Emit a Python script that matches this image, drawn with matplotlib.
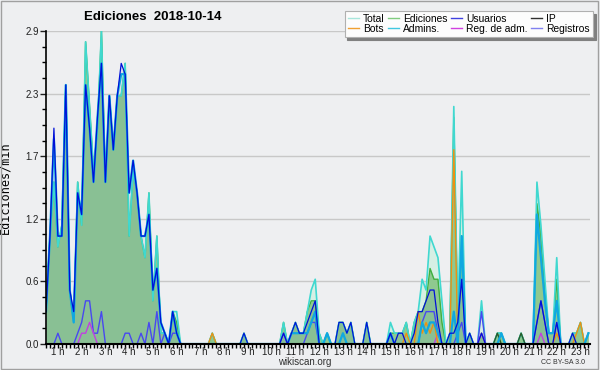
import numpy as np
import matplotlib

matplotlib.use("Agg")
import matplotlib.pyplot as plt
from matplotlib.lines import Line2D
from matplotlib.patches import Rectangle

# values are edits per minute in 10-minute buckets, one row per hour
total = [
    0.3, 1.0, 1.5, 0.9, 1.1, 2.4,
    0.5, 0.2, 1.5, 1.1, 2.8, 2.2,
    1.6, 2.0, 2.9, 1.5, 2.3, 1.8,
    2.3, 2.3, 2.6, 1.0, 1.6, 1.4,
    1.0, 0.8, 1.4, 0.4, 1.0, 0.1,
    0.1, 0.0, 0.3, 0.3, 0.0, 0.0,
    0.0, 0.0, 0.0, 0.0, 0.0, 0.0,
    0.1, 0.0, 0.0, 0.0, 0.0, 0.0,
    0.0, 0.0, 0.1, 0.0, 0.0, 0.0,
    0.0, 0.0, 0.0, 0.0, 0.0, 0.0,
    0.2, 0.0, 0.1, 0.2, 0.1, 0.1,
    0.3, 0.5, 0.6, 0.1, 0.0, 0.1,
    0.0, 0.0, 0.2, 0.2, 0.1, 0.2,
    0.0, 0.0, 0.0, 0.2, 0.0, 0.0,
    0.0, 0.0, 0.0, 0.2, 0.1, 0.1,
    0.1, 0.2, 0.0, 0.2, 0.3, 0.6,
    0.5, 1.0, 0.9, 0.8, 0.4, 0.0,
    0.1, 2.2, 0.2, 1.6, 0.0, 0.1,
    0.0, 0.0, 0.4, 0.0, 0.0, 0.0,
    0.1, 0.1, 0.0, 0.0, 0.0, 0.0,
    0.1, 0.0, 0.0, 0.0, 1.5, 1.1,
    0.6, 0.1, 0.1, 0.8, 0.0, 0.0,
    0.0, 0.1, 0.1, 0.2, 0.0, 0.1,
]
ediciones = [
    0.3, 1.0, 1.5, 0.9, 1.1, 2.4,
    0.5, 0.2, 1.5, 1.1, 2.8, 2.2,
    1.6, 2.0, 2.9, 1.5, 2.3, 1.8,
    2.3, 2.3, 2.6, 1.0, 1.6, 1.4,
    1.0, 0.8, 1.4, 0.4, 1.0, 0.1,
    0.1, 0.0, 0.3, 0.2, 0.0, 0.0,
    0.0, 0.0, 0.0, 0.0, 0.0, 0.0,
    0.1, 0.0, 0.0, 0.0, 0.0, 0.0,
    0.0, 0.0, 0.1, 0.0, 0.0, 0.0,
    0.0, 0.0, 0.0, 0.0, 0.0, 0.0,
    0.2, 0.0, 0.1, 0.2, 0.1, 0.1,
    0.3, 0.4, 0.4, 0.1, 0.0, 0.1,
    0.0, 0.0, 0.2, 0.2, 0.1, 0.2,
    0.0, 0.0, 0.0, 0.2, 0.0, 0.0,
    0.0, 0.0, 0.0, 0.1, 0.1, 0.1,
    0.1, 0.2, 0.0, 0.2, 0.3, 0.3,
    0.4, 0.7, 0.6, 0.6, 0.2, 0.0,
    0.1, 2.1, 0.2, 1.0, 0.0, 0.1,
    0.0, 0.0, 0.1, 0.0, 0.0, 0.0,
    0.1, 0.1, 0.0, 0.0, 0.0, 0.0,
    0.1, 0.0, 0.0, 0.0, 1.3, 1.0,
    0.5, 0.1, 0.1, 0.6, 0.0, 0.0,
    0.0, 0.1, 0.1, 0.2, 0.0, 0.1,
]
usuarios = [
    0.3, 1.0, 2.0, 1.0, 1.0, 2.4,
    0.5, 0.3, 1.4, 1.2, 2.4, 2.0,
    1.5, 2.1, 2.6, 1.5, 2.3, 1.8,
    2.3, 2.6, 2.5, 1.4, 1.7, 1.4,
    1.0, 1.0, 1.2, 0.5, 0.7, 0.2,
    0.1, 0.0, 0.3, 0.1, 0.0, 0.0,
    0.0, 0.0, 0.0, 0.0, 0.0, 0.0,
    0.0, 0.0, 0.0, 0.0, 0.0, 0.0,
    0.0, 0.0, 0.1, 0.0, 0.0, 0.0,
    0.0, 0.0, 0.0, 0.0, 0.0, 0.0,
    0.1, 0.0, 0.1, 0.2, 0.1, 0.1,
    0.2, 0.3, 0.4, 0.0, 0.0, 0.0,
    0.0, 0.0, 0.2, 0.2, 0.1, 0.2,
    0.0, 0.0, 0.0, 0.2, 0.0, 0.0,
    0.0, 0.0, 0.0, 0.1, 0.0, 0.1,
    0.1, 0.0, 0.0, 0.1, 0.3, 0.3,
    0.4, 0.5, 0.5, 0.2, 0.0, 0.0,
    0.1, 0.1, 0.2, 0.6, 0.0, 0.1,
    0.0, 0.0, 0.1, 0.0, 0.0, 0.0,
    0.0, 0.0, 0.0, 0.0, 0.0, 0.0,
    0.0, 0.0, 0.0, 0.0, 0.2, 0.4,
    0.2, 0.0, 0.0, 0.2, 0.0, 0.0,
    0.0, 0.1, 0.0, 0.0, 0.0, 0.0,
]
admins = [
    0.3, 1.0, 1.9, 1.0, 1.0, 2.4,
    0.5, 0.2, 1.4, 1.2, 2.4, 2.0,
    1.5, 2.1, 2.6, 1.5, 2.3, 1.8,
    2.3, 2.5, 2.5, 1.4, 1.7, 1.4,
    1.0, 1.0, 1.2, 0.5, 0.7, 0.2,
    0.1, 0.0, 0.3, 0.1, 0.0, 0.0,
    0.0, 0.0, 0.0, 0.0, 0.0, 0.0,
    0.0, 0.0, 0.0, 0.0, 0.0, 0.0,
    0.0, 0.0, 0.0, 0.0, 0.0, 0.0,
    0.0, 0.0, 0.0, 0.0, 0.0, 0.0,
    0.0, 0.0, 0.1, 0.1, 0.1, 0.1,
    0.1, 0.2, 0.3, 0.0, 0.0, 0.1,
    0.0, 0.0, 0.0, 0.1, 0.0, 0.0,
    0.0, 0.0, 0.0, 0.0, 0.0, 0.0,
    0.0, 0.0, 0.0, 0.1, 0.0, 0.0,
    0.0, 0.0, 0.0, 0.0, 0.0, 0.2,
    0.1, 0.2, 0.2, 0.1, 0.0, 0.0,
    0.0, 0.3, 0.0, 1.0, 0.0, 0.0,
    0.0, 0.0, 0.0, 0.0, 0.0, 0.0,
    0.0, 0.1, 0.0, 0.0, 0.0, 0.0,
    0.0, 0.0, 0.0, 0.0, 1.2, 0.8,
    0.4, 0.1, 0.1, 0.4, 0.0, 0.0,
    0.0, 0.0, 0.0, 0.0, 0.0, 0.1,
]
registros = [
    0.0, 0.0, 0.0, 0.1, 0.0, 0.0,
    0.0, 0.0, 0.1, 0.2, 0.4, 0.4,
    0.1, 0.1, 0.3, 0.0, 0.0, 0.0,
    0.0, 0.0, 0.1, 0.1, 0.0, 0.0,
    0.1, 0.0, 0.2, 0.0, 0.3, 0.0,
    0.1, 0.0, 0.1, 0.1, 0.0, 0.0,
    0.0, 0.0, 0.0, 0.0, 0.0, 0.0,
    0.0, 0.0, 0.0, 0.0, 0.0, 0.0,
    0.0, 0.0, 0.0, 0.0, 0.0, 0.0,
    0.0, 0.0, 0.0, 0.0, 0.0, 0.0,
    0.1, 0.0, 0.0, 0.0, 0.0, 0.0,
    0.1, 0.2, 0.2, 0.0, 0.0, 0.0,
    0.0, 0.0, 0.0, 0.0, 0.0, 0.0,
    0.0, 0.0, 0.0, 0.0, 0.0, 0.0,
    0.0, 0.0, 0.0, 0.1, 0.0, 0.0,
    0.0, 0.0, 0.0, 0.0, 0.0, 0.2,
    0.3, 0.3, 0.3, 0.1, 0.0, 0.0,
    0.0, 0.0, 0.1, 0.2, 0.0, 0.0,
    0.0, 0.0, 0.3, 0.0, 0.0, 0.0,
    0.0, 0.0, 0.0, 0.0, 0.0, 0.0,
    0.0, 0.0, 0.0, 0.0, 0.2, 0.4,
    0.2, 0.0, 0.0, 0.2, 0.0, 0.0,
    0.0, 0.0, 0.0, 0.0, 0.0, 0.0,
]
reg_adm = [
    0.0, 0.0, 0.0, 0.0, 0.0, 0.0,
    0.0, 0.0, 0.0, 0.1, 0.1, 0.2,
    0.1, 0.0, 0.0, 0.0, 0.0, 0.0,
    0.0, 0.0, 0.0, 0.0, 0.0, 0.0,
    0.0, 0.0, 0.0, 0.0, 0.0, 0.0,
    0.0, 0.0, 0.0, 0.0, 0.0, 0.0,
    0.0, 0.0, 0.0, 0.0, 0.0, 0.0,
    0.0, 0.0, 0.0, 0.0, 0.0, 0.0,
    0.0, 0.0, 0.0, 0.0, 0.0, 0.0,
    0.0, 0.0, 0.0, 0.0, 0.0, 0.0,
    0.0, 0.0, 0.0, 0.0, 0.0, 0.0,
    0.0, 0.0, 0.0, 0.0, 0.0, 0.0,
    0.0, 0.0, 0.0, 0.0, 0.0, 0.0,
    0.0, 0.0, 0.0, 0.0, 0.0, 0.0,
    0.0, 0.0, 0.0, 0.0, 0.0, 0.0,
    0.0, 0.0, 0.0, 0.0, 0.0, 0.0,
    0.0, 0.0, 0.0, 0.1, 0.0, 0.0,
    0.0, 0.0, 0.0, 0.0, 0.0, 0.0,
    0.0, 0.0, 0.1, 0.0, 0.0, 0.0,
    0.0, 0.0, 0.0, 0.0, 0.0, 0.0,
    0.0, 0.0, 0.0, 0.0, 0.0, 0.1,
    0.0, 0.0, 0.0, 0.0, 0.0, 0.0,
    0.0, 0.0, 0.0, 0.0, 0.0, 0.0,
]
bots = [
    0.0, 0.0, 0.0, 0.0, 0.0, 0.0,
    0.0, 0.0, 0.0, 0.0, 0.0, 0.0,
    0.0, 0.0, 0.0, 0.0, 0.0, 0.0,
    0.0, 0.0, 0.0, 0.0, 0.0, 0.0,
    0.0, 0.0, 0.0, 0.0, 0.0, 0.0,
    0.0, 0.0, 0.0, 0.0, 0.0, 0.0,
    0.0, 0.0, 0.0, 0.0, 0.0, 0.0,
    0.1, 0.0, 0.0, 0.0, 0.0, 0.0,
    0.0, 0.0, 0.0, 0.0, 0.0, 0.0,
    0.0, 0.0, 0.0, 0.0, 0.0, 0.0,
    0.0, 0.0, 0.0, 0.0, 0.0, 0.0,
    0.0, 0.0, 0.0, 0.0, 0.0, 0.0,
    0.0, 0.0, 0.0, 0.0, 0.0, 0.0,
    0.0, 0.0, 0.0, 0.0, 0.0, 0.0,
    0.0, 0.0, 0.0, 0.0, 0.0, 0.0,
    0.0, 0.1, 0.0, 0.0, 0.3, 0.1,
    0.2, 0.1, 0.2, 0.0, 0.0, 0.0,
    0.0, 1.8, 0.0, 0.0, 0.0, 0.0,
    0.0, 0.0, 0.0, 0.0, 0.0, 0.0,
    0.0, 0.0, 0.0, 0.0, 0.0, 0.0,
    0.0, 0.0, 0.0, 0.0, 0.0, 0.0,
    0.0, 0.0, 0.0, 0.1, 0.0, 0.0,
    0.0, 0.0, 0.1, 0.2, 0.0, 0.0,
]
ip = [
    0.0, 0.0, 0.0, 0.0, 0.0, 0.0,
    0.0, 0.0, 0.0, 0.0, 0.0, 0.0,
    0.0, 0.0, 0.0, 0.0, 0.0, 0.0,
    0.0, 0.0, 0.0, 0.0, 0.0, 0.0,
    0.0, 0.0, 0.0, 0.0, 0.0, 0.0,
    0.0, 0.0, 0.0, 0.0, 0.0, 0.0,
    0.0, 0.0, 0.0, 0.0, 0.0, 0.0,
    0.0, 0.0, 0.0, 0.0, 0.0, 0.0,
    0.0, 0.0, 0.0, 0.0, 0.0, 0.0,
    0.0, 0.0, 0.0, 0.0, 0.0, 0.0,
    0.0, 0.0, 0.0, 0.0, 0.0, 0.0,
    0.0, 0.0, 0.0, 0.0, 0.0, 0.0,
    0.0, 0.0, 0.0, 0.0, 0.0, 0.0,
    0.0, 0.0, 0.0, 0.0, 0.0, 0.0,
    0.0, 0.0, 0.0, 0.0, 0.0, 0.0,
    0.0, 0.0, 0.0, 0.0, 0.0, 0.0,
    0.0, 0.0, 0.0, 0.0, 0.0, 0.0,
    0.0, 0.0, 0.0, 0.0, 0.0, 0.0,
    0.0, 0.0, 0.0, 0.0, 0.0, 0.0,
    0.1, 0.0, 0.0, 0.0, 0.0, 0.0,
    0.1, 0.0, 0.0, 0.0, 0.0, 0.0,
    0.0, 0.0, 0.0, 0.0, 0.0, 0.0,
    0.0, 0.0, 0.0, 0.0, 0.0, 0.0,
]

legend_labels = ["Total", "Bots", "Ediciones", "Admins.",
                 "Usuarios", "Reg. de adm.", "IP", "Registros"]
legend_colors = ["#a8e6dc", "#f0a030", "#80cc80", "#40c8e0",
                 "#4040e0", "#d040e0", "#303030", "#8080f0"]
hour_labels = [f"{h} h" for h in range(1, 24)]

BG = "#eeeff1"
FONT = ["Liberation Sans", "DejaVu Sans"]

hours = np.arange(len(total)) / 6.0

fig = plt.figure(figsize=(6, 3.7), dpi=100, facecolor=BG)
fig.patches.append(Rectangle((0.002, 0.003), 0.995, 0.994, transform=fig.transFigure,
                             fill=False, edgecolor="#a0a0a0", linewidth=1))
ax = fig.add_axes([46 / 600, 26 / 370, 544 / 600, 313 / 370], facecolor=BG)

ax.fill_between(hours, total, color="#d6efe4", linewidth=0)
ax.fill_between(hours, ediciones, color="#8fc98f", linewidth=0)
ax.fill_between(hours, usuarios, color="#6080c0", alpha=0.12, linewidth=0)

ax.plot(hours, ediciones, color="#40b040", linewidth=1.0)
ax.plot(hours, total, color="#40d8d0", linewidth=1.2)
ax.plot(hours, registros, color="#4848f0", linewidth=1.0)
ax.plot(hours, reg_adm, color="#c040e0", linewidth=1.0)
ax.plot(hours, bots, color="#f09010", linewidth=1.0)
ax.plot(hours, ip, color="#2a5a2a", linewidth=1.0)
ax.plot(hours, admins, color="#10a8e0", linewidth=1.6)
ax.plot(hours, usuarios, color="#0010d8", linewidth=0.9)

ymax = 2.9
ax.set_ylim(0, ymax)
ax.set_xlim(0, 22.9)
ax.set_yticks(np.linspace(0, ymax, 6))
ax.set_yticklabels([f"{v:.1f}" for v in np.linspace(0, ymax, 6)])
ax.set_yticks(np.linspace(0, ymax, 21), minor=True)
ax.set_xticks(np.arange(0, 23))
ax.set_xticks(np.arange(0, 22.9, 1 / 6), minor=True)
ax.set_xticklabels([])
for h, lab in zip(range(1, 24), hour_labels):
    ax.text(h - 0.5, -0.009, lab, transform=ax.get_xaxis_transform(),
            ha="center", va="top", fontsize=7, family=FONT, color="#202020")

ax.grid(axis="y", color="#c8c8c8", linewidth=1)
ax.set_axisbelow(True)
for side in ("top", "right"):
    ax.spines[side].set_visible(False)
ax.spines["left"].set_linewidth(1.2)
ax.spines["bottom"].set_linewidth(1.5)
ax.tick_params(axis="y", which="major", length=4, width=1, labelsize=7, pad=1,
               colors="#202020")
ax.tick_params(axis="y", which="minor", length=3, width=1)
ax.tick_params(axis="x", which="both", length=3, width=1)
for lab in ax.get_yticklabels():
    lab.set_family(FONT)

ax.set_ylabel("Ediciones/min", family="DejaVu Sans Mono", fontsize=8.5, labelpad=10)

fig.text(0.255, 0.955, "Ediciones  2018-10-14", ha="center", va="center",
         fontsize=9.5, fontweight="bold", family=FONT)

handles = [Line2D([0], [0], color=c, linewidth=1) for c in legend_colors]
leg = fig.legend(handles, legend_labels, ncol=4, loc="upper right",
                 bbox_to_anchor=(593 / 600, 1 - 11 / 370), frameon=True,
                 handlelength=1.1, handletextpad=0.4,
                 columnspacing=0.3, labelspacing=0.0, borderpad=0.3,
                 borderaxespad=0, fancybox=False,
                 shadow={"color": "#808080", "alpha": 1.0},
                 prop={"family": FONT, "size": 7.4})
leg.get_frame().set_edgecolor("#b0b0b0")
leg.get_frame().set_facecolor("#fcfcfc")
leg.get_frame().set_linewidth(0.8)

fig.text(305 / 600, 1 - 362 / 370, "wikiscan.org", ha="center", va="center",
         fontsize=7, family=FONT, color="#303030")
fig.text(563 / 600, 1 - 363 / 370, "CC BY-SA 3.0", ha="center", va="center",
         fontsize=5, family=FONT, color="#303030")

fig.savefig("out.png", dpi=100, facecolor=BG)
